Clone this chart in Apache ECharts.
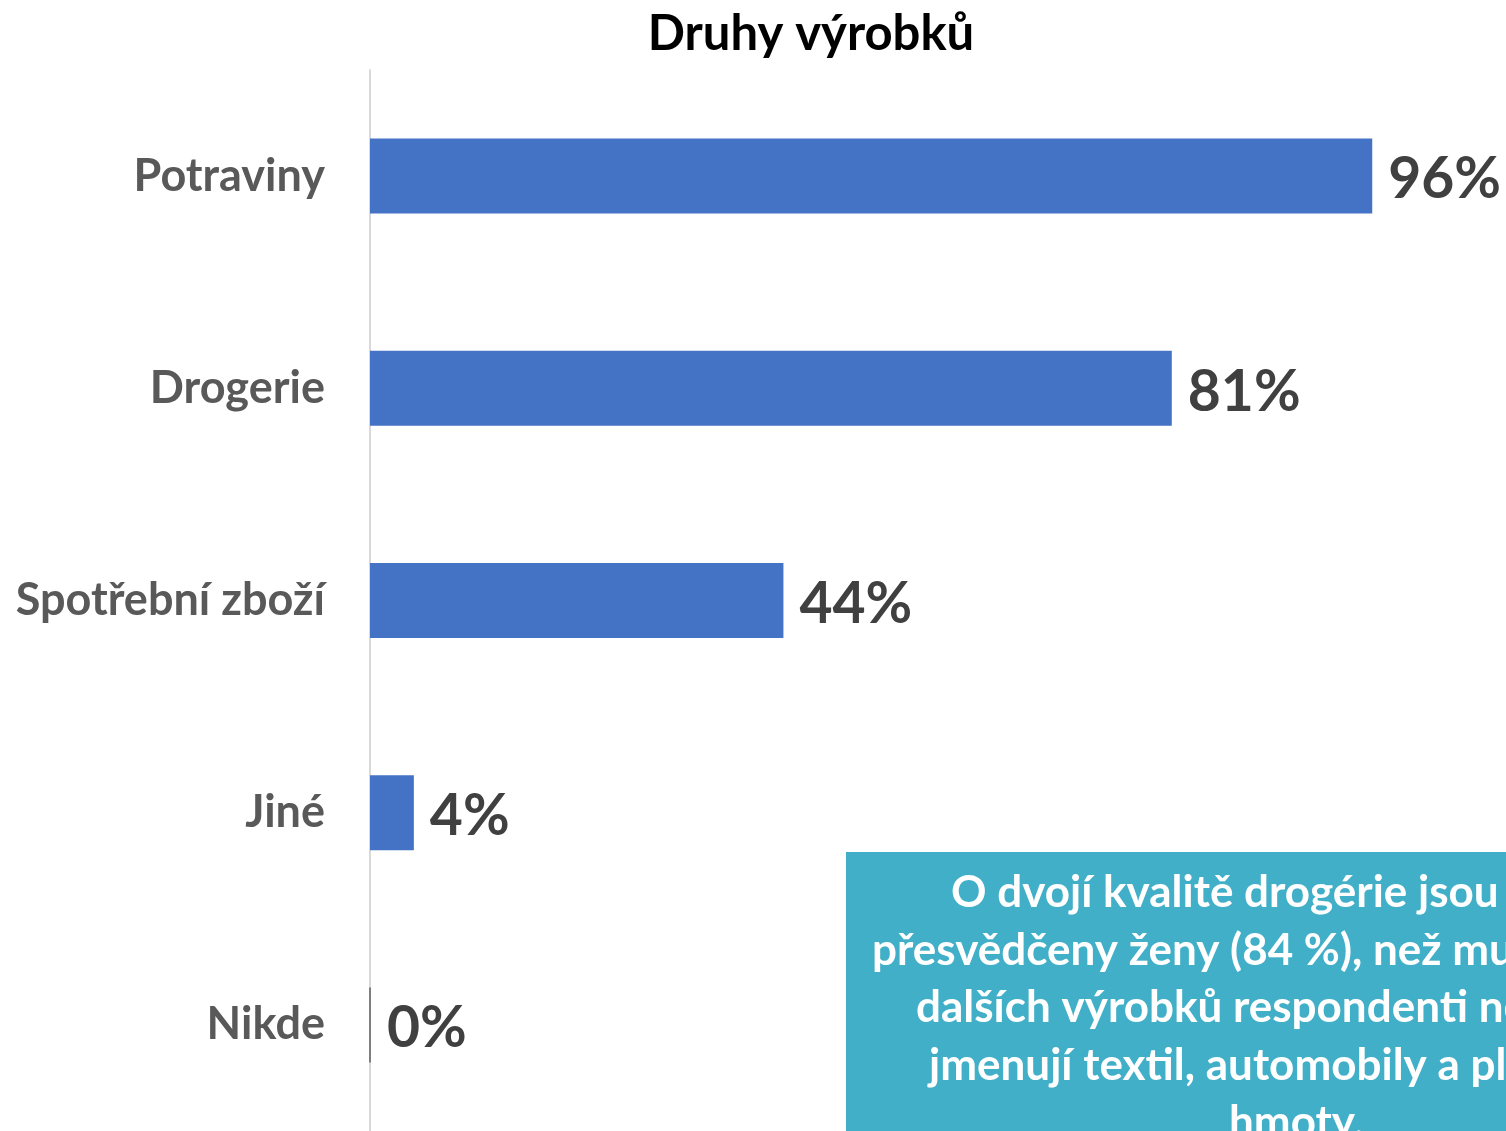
<!DOCTYPE html>
<html>
<head>
<meta charset="utf-8">
<script src="https://cdn.jsdelivr.net/npm/echarts@6/dist/echarts.min.js"></script>
<style>
  html, body { margin: 0; padding: 0; background: #fff; }
  #chart { width: 1506px; height: 1131px; }
</style>
</head>
<body>
<div id="chart"></div>
<script>
// categories shown top to bottom
const categories = ['Potraviny', 'Drogerie', 'Spotřební zboží', 'Jiné', 'Nikde'];
// bar lengths (percent of axis)
const barValues = [96, 76.8, 39.6, 4.2, 0];
// value labels printed next to the bars
const labelTexts = ['96%', '81%', '44%', '4%', '0%'];
// annotation box lines
const noteLines = [
  'O dvojí kvalitě drogérie jsou více',
  'přesvědčeny ženy (84 %), než muži. Z',
  'dalších výrobků respondenti nejčastěji',
  'jmenují textil, automobily a plastové',
  'hmoty.'
];
const noteStarts = [951, 872, 916, 929, 1229];

const font = 'Lato, "Noto Sans", sans-serif';

let myChart = echarts.init(document.getElementById('chart'));

// bar data, the zero bar gets a thin dark edge like the original
let barData = barValues.map(function (v, i) {
  if (v === 0) {
    return { value: v, itemStyle: { borderColor: '#7f7f7f', borderWidth: 2 } };
  }
  return v;
});

// text lines inside the teal box
let noteTexts = noteLines.map(function (line, i) {
  return {
    type: 'text',
    left: noteStarts[i],
    top: 871 + i * 57.5,
    style: {
      text: line,
      fill: '#ffffff',
      font: 'bold 44px ' + font
    }
  };
});

let option = {
  animation: false,
  backgroundColor: '#ffffff',
  title: {
    text: 'Druhy výrobků',
    left: 806,
    textAlign: 'center',
    top: 5,
    textStyle: {
      fontFamily: font,
      fontWeight: 'bold',
      fontSize: 49,
      color: '#000000'
    }
  },
  grid: {
    left: 370,
    top: 70,
    right: 92,
    bottom: 0,
    containLabel: false
  },
  xAxis: {
    type: 'value',
    min: 0,
    max: 100,
    show: false
  },
  yAxis: {
    type: 'category',
    data: categories,
    inverse: true,
    axisLine: { show: true, lineStyle: { color: '#d9d9d9', width: 2 } },
    axisTick: { show: false },
    axisLabel: {
      margin: 45,
      padding: [4, 0, 0, 0],
      fontFamily: font,
      fontWeight: 'bold',
      fontSize: 45,
      color: '#595959'
    }
  },
  series: [
    {
      type: 'bar',
      data: barData,
      barWidth: 75,
      itemStyle: { color: '#4472c4' },
      label: {
        show: true,
        position: 'right',
        distance: 16,
        offset: [0, 4],
        formatter: function (p) { return labelTexts[p.dataIndex]; },
        fontFamily: font,
        fontWeight: 'bold',
        fontSize: 57,
        color: '#404040'
      }
    }
  ],
  graphic: [
    {
      type: 'rect',
      left: 846,
      top: 852,
      shape: { width: 720, height: 300 },
      style: { fill: '#41afc7' }
    }
  ].concat(noteTexts)
};

myChart.setOption(option);
</script>
</body>
</html>
